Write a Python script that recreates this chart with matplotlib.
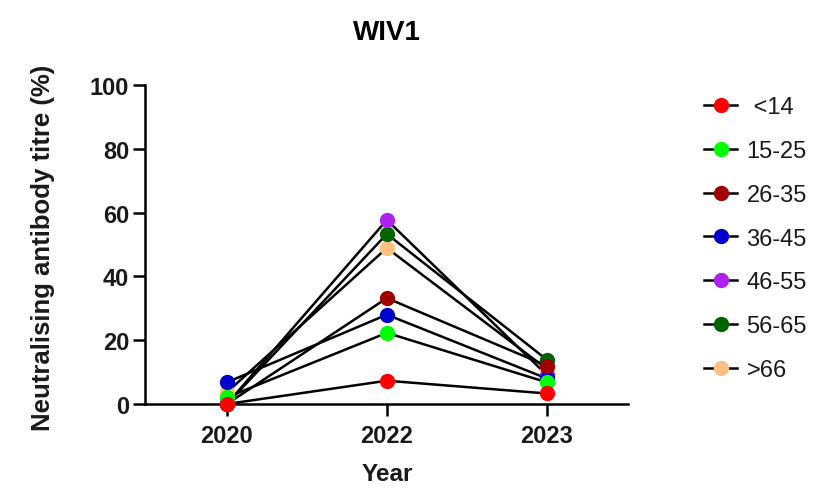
import matplotlib
matplotlib.use("Agg")
import matplotlib.pyplot as plt
from matplotlib.lines import Line2D

plt.rcParams['font.family'] = ['Liberation Sans', 'DejaVu Sans']

years = ["2020", "2022", "2023"]
groups = [" <14", "15-25", "26-35", "36-45", "46-55", "56-65", ">66"]
lt14 = [0.0, 7.3, 3.3]
g15_25 = [2.1, 22.3, 6.8]
g26_35 = [0.0, 33.2, 12.0]
g36_45 = [6.8, 28.0, 8.0]
g46_55 = [0.0, 57.7, 9.1]
g56_65 = [0.0, 53.3, 13.9]
gt66 = [3.7, 48.9, 11.0]
series = [lt14, g15_25, g26_35, g36_45, g46_55, g56_65, gt66]
colors = ["#FF0000", "#00FF00", "#A00000", "#0000CC", "#B020F0", "#006400", "#FFC080"]
yticks = [0, 20, 40, 60, 80, 100]

fig = plt.figure(figsize=(8.22, 4.89), dpi=100)
ax = fig.add_axes([0.1764, 0.1718, 0.5872, 0.6523])

x = list(range(len(years)))
n = len(series)
for i in range(n - 1, -1, -1):
    ax.plot(x, series[i], color="black", lw=1.8, zorder=2)
    ax.plot(x, series[i], ls="none", marker="o", ms=10, mfc=colors[i],
            mec=colors[i], zorder=3 + (n - i), clip_on=False)

ax.set_xlim(-0.5125, 2.506)
ax.set_ylim(0, 100)
ax.set_xticks(x)
ax.set_xticklabels(years)
ax.set_yticks(yticks)
for s in ["top", "right"]:
    ax.spines[s].set_visible(False)
for s in ["left", "bottom"]:
    ax.spines[s].set_linewidth(1.8)
ax.tick_params(axis="both", length=8.5, width=1.8, labelsize=17)
ax.tick_params(axis="x", pad=6)
ax.tick_params(axis="y", pad=3)
for lab in ax.get_xticklabels() + ax.get_yticklabels():
    lab.set_fontweight("bold")
    lab.set_color("#1a1a1a")

fig.text(43 / 822, 1 - 247.5 / 489, "Neutralising antibody titre (%)", fontsize=18.5,
         fontweight="bold", rotation=90, ha="center", va="center", color="#1a1a1a")
fig.text(387 / 822, 1 - 475 / 489, "Year", fontsize=17.5, fontweight="bold",
         ha="center", va="center", color="#1a1a1a")
fig.text(0.4708, 1 - 33 / 489, "WIV1", fontsize=20, fontweight="bold",
         ha="center", va="center")

handles = [Line2D([0], [0], color="black", lw=1.8, marker="o", ms=10,
                  mfc=c, mec=c) for c in colors]
fig.legend(handles, groups, loc="upper left", bbox_to_anchor=(0.845, 0.82),
           frameon=False, fontsize=17, handlelength=1.4, handletextpad=0.4,
           labelspacing=0.92, borderaxespad=0, labelcolor="#1a1a1a")

fig.savefig("out.png", dpi=100)
